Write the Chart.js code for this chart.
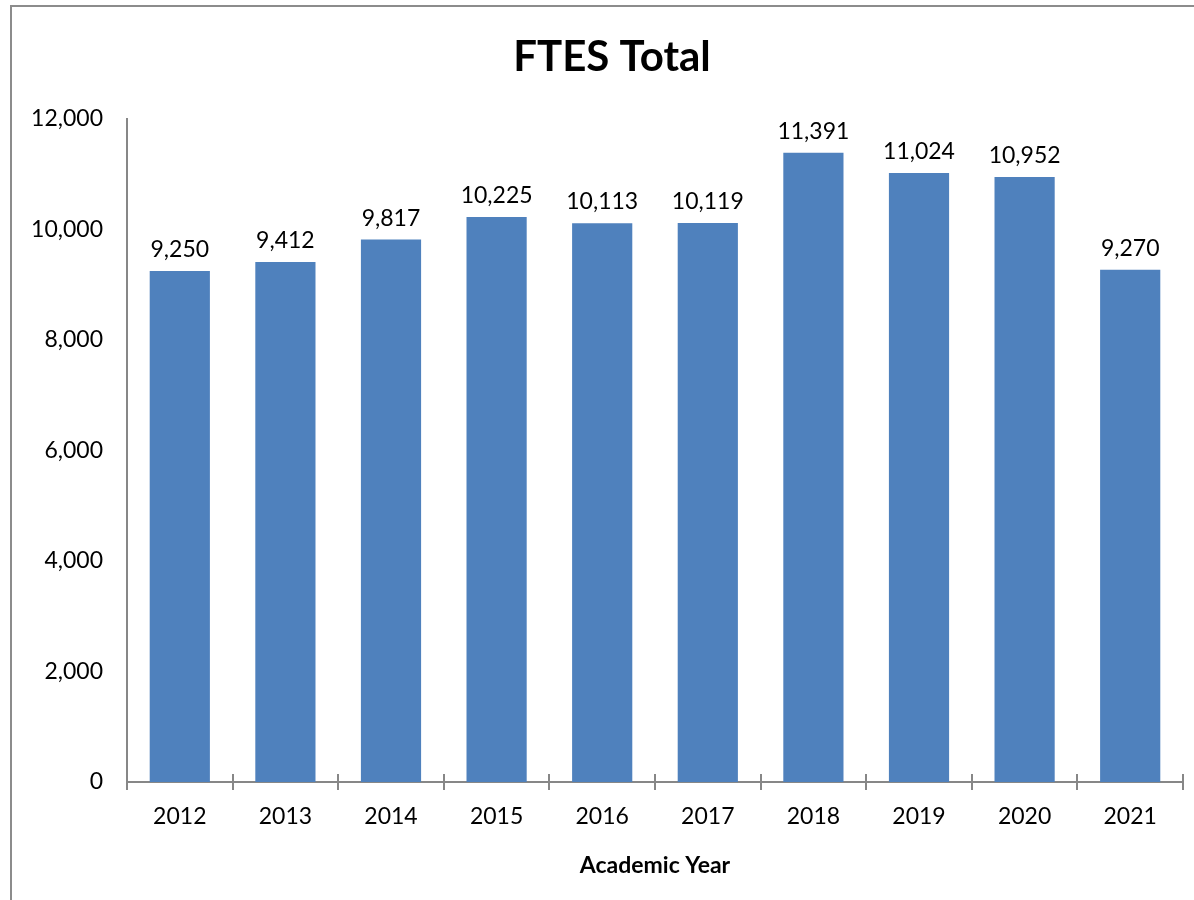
<!DOCTYPE html>
<html>
<head>
<meta charset="utf-8">
<script src="https://cdn.jsdelivr.net/npm/chart.js@4.4.0/dist/chart.umd.min.js"></script>
<style>
  html, body { margin: 0; padding: 0; background: #fff; }
  #frame { position: absolute; left: 10px; top: 5px; width: 1200px; height: 920px;
           border-left: 2px solid #8c8c8c; border-top: 2px solid #8c8c8c; }
  #wrap { position: absolute; left: 0; top: 0; width: 1194px; height: 900px; }
</style>
</head>
<body>
<div id="frame"></div>
<div id="wrap"><canvas id="chartCanvas"></canvas></div>
<script>
// Chart data
const years = ['2012', '2013', '2014', '2015', '2016', '2017', '2018', '2019', '2020', '2021'];
const ftesTotal = [9250, 9412, 9817, 10225, 10113, 10119, 11391, 11024, 10952, 9270];
const yTicks = [0, 2000, 4000, 6000, 8000, 10000, 12000];

const FONT = 'Lato, "Noto Sans", sans-serif';
const AXIS_GREY = '#878787';

window.formatNumber = n => Number(n).toLocaleString('en-US');

// title + value labels + inner half of the x tick marks
const extras = {
    id: 'extras',
    afterDatasetsDraw(chart) {
        const ctx = chart.ctx;
        const meta = chart.getDatasetMeta(0);
        ctx.save();
        ctx.fillStyle = '#000';
        ctx.font = '23px ' + FONT;
        ctx.textAlign = 'center';
        ctx.textBaseline = 'bottom';
        meta.data.forEach((bar, i) => {
            ctx.fillText(window.formatNumber(ftesTotal[i]), bar.x, bar.y - 10);
        });
        ctx.font = 'bold 42px ' + FONT;
        ctx.textBaseline = 'middle';
        ctx.fillText('FTES Total', 612, 57);

        const x = chart.scales.x;
        const yb = chart.chartArea.bottom;
        ctx.strokeStyle = AXIS_GREY;
        ctx.lineWidth = 2;
        for (let i = 0; i <= years.length; i++) {
            const px = Math.round(x.getPixelForValue(i - 0.5));
            ctx.beginPath();
            ctx.moveTo(px, yb - 8);
            ctx.lineTo(px, yb);
            ctx.stroke();
        }
        ctx.restore();
    }
};

const ctx = document.getElementById('chartCanvas').getContext('2d');
window.chart = new Chart(ctx, {
    type: 'bar',
    data: {
        labels: years,
        datasets: [{
            label: 'FTES Total',
            data: ftesTotal,
            backgroundColor: '#4F81BD',
            borderWidth: 0,
            barPercentage: 0.57,
            categoryPercentage: 1
        }]
    },
    options: {
        responsive: true,
        maintainAspectRatio: false,
        animation: false,
        layout: { padding: { top: 119, right: 11, left: 0, bottom: 0 } },
        plugins: {
            legend: { display: false },
            tooltip: { enabled: false },
            title: { display: false }
        },
        scales: {
            x: {
                grid: { display: true, offset: true, drawOnChartArea: false, color: AXIS_GREY, lineWidth: 2, tickLength: 8 },
                border: { display: true, color: AXIS_GREY, width: 2 },
                ticks: { color: '#000', font: { family: FONT, size: 23 }, padding: 13, maxRotation: 0 },
                title: { display: true, text: 'Academic Year', color: '#000', font: { family: FONT, size: 23, weight: 'bold' }, padding: { top: 18, bottom: 21 } },
                afterFit: s => { s.height = 118; }
            },
            y: {
                min: 0,
                max: 12000,
                afterBuildTicks: s => { s.ticks = yTicks.map(v => ({ value: v })); },
                grid: { display: false, drawTicks: false },
                border: { display: true, color: AXIS_GREY, width: 2 },
                ticks: { color: '#000', font: { family: FONT, size: 23 }, padding: 24, callback: v => window.formatNumber(v) },
                afterFit: s => { s.width = 127; }
            }
        }
    },
    plugins: [extras]
});
</script>
</body>
</html>
